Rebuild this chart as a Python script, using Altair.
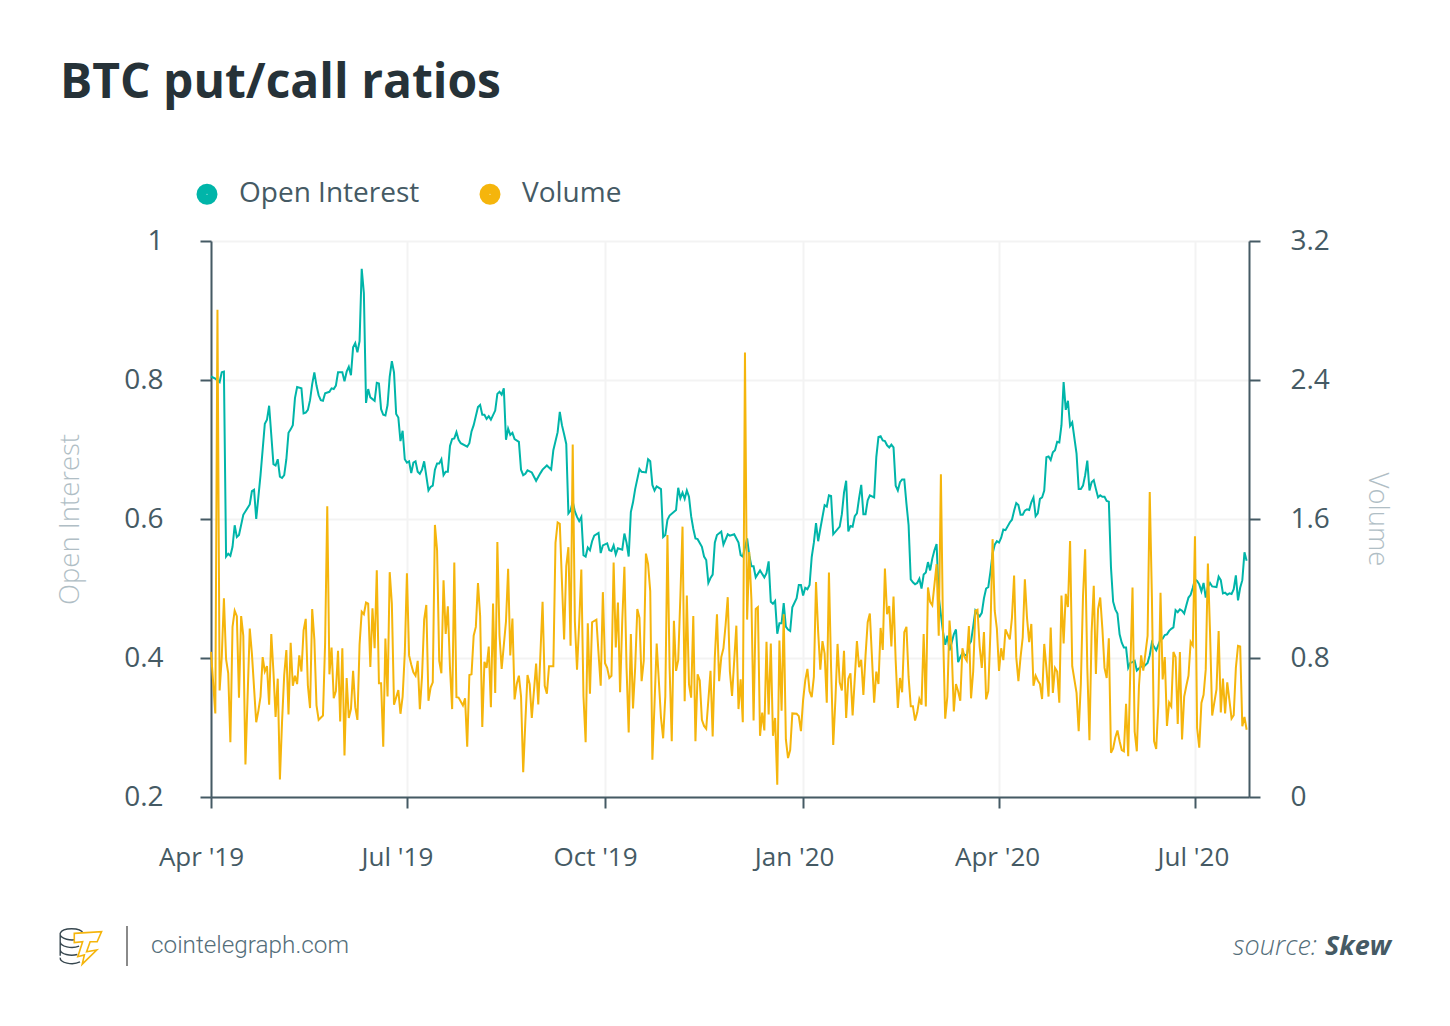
import altair as alt
import pandas as pd

# (days since 1 Apr 2019, ratio)
open_interest = [(0,.805),(2,.802),(4,.797),(5,.811),(6,.812),(7,.546),(8,.550),(9,.547),(10,.560),(11,.591),(12,.574),(13,.577),(15,.606),(18,.621),(19,.640),(20,.642),(21,.600),(23,.663),(25,.737),(26,.743),(27,.763),(29,.679),(30,.677),(31,.686),(32,.661),(33,.659),(34,.663),(35,.686),(36,.724),(37,.729),(38,.735),(39,.774),(40,.790),(42,.788),(43,.752),(44,.753),(45,.757),(46,.771),(47,.794),(48,.811),(49,.792),(50,.778),(51,.771),(52,.770),(53,.781),(55,.783),(56,.788),(57,.787),(58,.792),(59,.811),(61,.811),(62,.798),(63,.812),(64,.819),(65,.807),(66,.847),(67,.853),(68,.840),(69,.856),(70,.960),(71,.925),(72,.767),(73,.787),(74,.775),(76,.770),(77,.796),(78,.795),(79,.758),(80,.750),(81,.749),(82,.764),(83,.805),(84,.827),(85,.811),(86,.751),(87,.746),(88,.712),(89,.727),(90,.686),(91,.681),(92,.683),(93,.666),(94,.681),(95,.683),(96,.668),(97,.665),(98,.671),(99,.683),(101,.641),(102,.646),(103,.648),(104,.671),(105,.680),(106,.680),(107,.686),(108,.663),(109,.668),(110,.668),(111,.705),(112,.715),(113,.716),(114,.725),(115,.714),(116,.709),(119,.704),(120,.709),(121,.726),(122,.735),(124,.761),(125,.764),(126,.750),(127,.750),(128,.744),(129,.748),(130,.743),(132,.756),(133,.780),(134,.783),(135,.779),(136,.788),(137,.714),(138,.730),(139,.721),(140,.724),(141,.715),(143,.711),(144,.671),(145,.663),(146,.665),(147,.670),(149,.667),(151,.655),(153,.666),(154,.671),(156,.677),(158,.671),(159,.699),(161,.725),(162,.754),(163,.735),(164,.722),(165,.708),(166,.608),(167,.612),(168,.625),(169,.611),(170,.603),(171,.597),(172,.603),(173,.548),(174,.546),(175,.559),(176,.555),(177,.568),(178,.576),(180,.580),(181,.551),(182,.562),(184,.565),(185,.555),(186,.554),(187,.562),(188,.549),(189,.558),(191,.556),(192,.579),(193,.566),(194,.546),(195,.610),(196,.624),(197,.643),(199,.672),(200,.668),(202,.667),(203,.686),(204,.683),(205,.649),(206,.641),(207,.647),(209,.643),(210,.574),(211,.577),(212,.599),(213,.605),(216,.613),(217,.645),(218,.630),(219,.638),(220,.629),(221,.641),(222,.632),(223,.604),(224,.586),(225,.572),(226,.571),(228,.560),(229,.546),(230,.541),(231,.508),(232,.515),(233,.520),(234,.566),(235,.577),(237,.582),(238,.563),(240,.578),(241,.576),(243,.578),(245,.566),(246,.548),(247,.546),(249,.572),(250,.548),(251,.532),(252,.532),(253,.516),(255,.526),(257,.516),(258,.522),(259,.539),(260,.481),(261,.478),(262,.482),(263,.435),(264,.450),(265,.450),(266,.479),(267,.445),(268,.441),(269,.439),(270,.473),(272,.486),(273,.505),(274,.505),(275,.490),(276,.501),(277,.499),(278,.505),(279,.545),(280,.566),(281,.594),(282,.568),(283,.586),(285,.620),(286,.618),(287,.634),(288,.633),(289,.578),(292,.589),(293,.607),(294,.638),(295,.655),(296,.582),(297,.590),(298,.589),(299,.604),(300,.608),(301,.630),(302,.649),(303,.607),(304,.607),(305,.627),(306,.634),(308,.631),(309,.689),(310,.718),(311,.719),(312,.713),(313,.712),(314,.706),(315,.703),(316,.707),(317,.703),(318,.648),(319,.641),(320,.653),(321,.657),(322,.657),(323,.622),(324,.591),(325,.513),(326,.509),(327,.506),(328,.508),(329,.514),(330,.500),(331,.520),(332,.523),(333,.538),(334,.526),(335,.543),(336,.555),(337,.564),(338,.488),(340,.437),(341,.419),(342,.432),(343,.411),(344,.422),(345,.434),(346,.441),(347,.394),(348,.401),(349,.407),(350,.405),(351,.403),(352,.419),(353,.424),(354,.445),(355,.468),(356,.463),(357,.460),(358,.465),(359,.486),(360,.500),(361,.502),(362,.524),(363,.550),(364,.563),(365,.568),(366,.566),(367,.573),(368,.585),(369,.584),(371,.595),(372,.599),(373,.612),(374,.623),(375,.620),(376,.606),(377,.606),(378,.612),(379,.614),(380,.613),(381,.624),(382,.631),(383,.604),(384,.608),(385,.629),(386,.631),(387,.641),(388,.689),(389,.690),(390,.685),(391,.696),(392,.699),(393,.711),(394,.710),(395,.735),(396,.797),(397,.757),(398,.770),(399,.734),(400,.739),(402,.694),(403,.643),(404,.643),(405,.648),(406,.663),(407,.684),(408,.641),(409,.653),(410,.656),(411,.643),(412,.631),(413,.634),(414,.632),(415,.632),(416,.626),(417,.625),(418,.530),(419,.481),(420,.470),(421,.464),(422,.434),(423,.422),(424,.415),(425,.415),(426,.386),(427,.393),(428,.394),(429,.396),(430,.382),(431,.385),(432,.388),(433,.387),(435,.393),(436,.404),(437,.422),(438,.416),(439,.411),(440,.419),(441,.427),(442,.428),(443,.433),(444,.434),(445,.439),(446,.442),(447,.444),(448,.469),(449,.466),(450,.470),(451,.468),(452,.464),(453,.476),(454,.487),(455,.491),(456,.501),(457,.513),(458,.511),(459,.506),(460,.496),(461,.508),(462,.487),(463,.502),(464,.508),(465,.503),(467,.502),(468,.517),(469,.512),(470,.493),(471,.494),(472,.491),(473,.493),(474,.492),(475,.499),(476,.519),(477,.483),(478,.501),(479,.512),(480,.552),(481,.540)]

volume = [(0,.835),(2,.481),(3,2.805),(4,.613),(5,.805),(6,1.144),(7,.794),(8,.712),(9,.315),(10,.979),(11,1.072),(12,1.041),(13,.572),(14,1.041),(15,.928),(16,.187),(17,.578),(18,.969),(19,.825),(21,.430),(22,.496),(23,.578),(24,.805),(25,.722),(26,.753),(27,.531),(28,.938),(29,.722),(30,.461),(31,.681),(32,.101),(33,.434),(34,.702),(35,.846),(36,.475),(37,.887),(38,.640),(39,.698),(40,.650),(41,.815),(42,.722),(43,.959),(44,1.025),(45,.640),(46,.512),(47,1.082),(48,.907),(49,.527),(50,.444),(52,.469),(53,.887),(54,1.673),(55,.706),(56,.860),(57,.568),(58,.609),(59,.842),(60,.434),(61,.856),(62,.239),(63,.685),(64,.455),(65,.506),(66,.726),(67,.517),(68,.444),(69,.877),(70,1.066),(71,1.052),(72,1.119),(73,1.113),(74,.749),(75,1.086),(76,.856),(77,1.305),(78,.654),(79,.654),(80,.290),(81,.912),(82,.578),(83,1.294),(84,1.113),(85,.531),(87,.615),(88,.479),(89,.578),(90,.825),(91,1.288),(92,.815),(93,.763),(94,.718),(95,.698),(96,.784),(97,.506),(98,.691),(99,1.021),(100,1.105),(101,.554),(102,.630),(103,.660),(104,1.566),(105,1.422),(106,.784),(107,.712),(108,1.247),(109,.938),(110,1.097),(111,.743),(112,.506),(113,1.350),(114,.574),(115,.572),(117,.527),(118,.568),(119,.290),(120,.702),(121,.706),(122,.928),(123,.979),(124,1.231),(125,1.041),(126,.403),(127,.778),(128,.743),(129,.866),(130,.517),(131,1.113),(132,.599),(133,1.467),(134,.928),(135,.737),(137,1.010),(138,1.313),(139,.815),(140,1.027),(141,.562),(142,.650),(143,.698),(144,.578),(145,.142),(146,.434),(147,.702),(148,.650),(149,.455),(151,.768),(152,.533),(153,.825),(154,1.123),(155,.640),(156,.595),(157,.753),(159,.753),(160,1.463),(161,1.580),(162,1.572),(163,1.237),(164,.907),(165,1.329),(166,1.438),(167,.870),(168,2.029),(169,1.010),(170,.733),(171,1.000),(172,1.309),(173,.578),(174,.315),(175,1.000),(176,.595),(177,1.006),(179,1.021),(180,.825),(181,.640),(182,1.179),(183,.770),(184,.743),(185,.685),(186,.698),(187,1.350),(188,.860),(189,1.119),(190,.603),(191,1.010),(192,1.325),(193,.743),(194,.372),(195,.938),(196,.510),(197,.743),(198,1.082),(199,1.031),(200,.667),(201,.784),(202,1.401),(203,1.340),(204,1.185),(205,.214),(206,.537),(207,.883),(209,.455),(210,.338),(211,.578),(212,1.508),(213,.743),(214,.321),(215,1.014),(216,.726),(217,.788),(218,1.154),(219,1.556),(220,.551),(221,1.160),(222,.650),(223,.572),(224,1.041),(225,.321),(226,.706),(227,.671),(228,.444),(229,.409),(230,.393),(231,.558),(232,.726),(233,.348),(234,.805),(235,1.052),(236,.667),(237,.805),(238,.856),(239,.990),(240,1.150),(241,.722),(242,.582),(244,.986),(245,.506),(246,.677),(247,.430),(248,2.558),(249,1.021),(250,1.410),(251,1.134),(252,.440),(253,1.082),(254,1.093),(255,.352),(256,.486),(257,.383),(258,.893),(259,.475),(260,.883),(261,.352),(262,.455),(263,.070),(264,.901),(265,.496),(266,1.052),(267,.331),(268,.224),(269,.270),(270,.481),(272,.479),(273,.465),(274,.379),(275,.558),(276,.671),(277,.737),(278,.609),(279,.574),(280,.691),(281,1.237),(282,.949),(283,.733),(284,.897),(285,.825),(286,.543),(287,1.292),(288,.743),(289,.300),(290,.558),(291,.881),(292,.660),(293,.613),(294,.842),(295,.455),(296,.681),(297,.712),(298,.469),(299,.681),(300,.897),(301,.747),(302,.790),(303,.588),(304,.815),(305,1.006),(306,1.056),(308,.543),(309,.722),(310,.650),(311,.973),(312,.846),(313,1.315),(314,1.052),(315,1.099),(316,.866),(317,1.154),(318,.784),(319,.512),(320,.685),(321,.603),(322,.949),(323,.979),(324,.691),(325,.523),(326,.523),(327,.440),(328,.486),(329,.564),(330,.531),(331,.938),(332,.521),(333,1.206),(334,1.123),(335,1.103),(337,1.340),(338,.928),(339,1.858),(340,.949),(341,.451),(342,.578),(343,1.016),(344,.856),(345,.492),(346,.650),(347,.609),(348,.554),(349,.856),(350,.805),(351,.784),(352,.984),(353,.568),(354,.722),(355,1.072),(356,1.078),(357,.866),(358,.743),(359,.949),(360,.562),(361,.609),(362,.949),(363,1.484),(364,1.072),(365,.969),(366,.726),(367,.856),(368,.788),(369,.965),(371,.907),(372,1.031),(373,1.274),(374,.805),(375,.667),(376,.805),(377,.918),(378,1.253),(379,1.031),(380,.891),(381,.996),(382,.640),(383,.698),(384,.671),(385,.650),(386,.564),(387,.881),(388,.743),(389,.578),(390,.975),(391,.599),(392,.743),(393,.722),(394,.543),(395,1.160),(396,.883),(397,1.169),(398,1.093),(399,1.473),(400,.753),(402,.599),(403,.379),(404,.650),(405,1.154),(406,1.426),(407,.743),(408,.327),(409,.949),(410,1.216),(411,.708),(412,1.082),(413,1.148),(414,.969),(415,.743),(416,.685),(417,.914),(418,.255),(419,.280),(420,.342),(421,.383),(422,.321),(423,.270),(424,.263),(425,.537),(426,.235),(427,.743),(428,1.206),(429,.377),(430,.263),(431,.640),(432,.815),(433,.728),(435,.928),(436,1.755),(437,1.154),(438,.321),(439,.276),(440,.537),(441,1.175),(442,.677),(443,.805),(444,.409),(445,.543),(446,.521),(447,.835),(448,.805),(449,.420),(450,.835),(451,.331),(452,.578),(453,.640),(454,.698),(455,.893),(456,.872),(457,1.500),(458,.397),(459,.284),(460,.541),(461,.588),(462,.733),(463,1.344),(464,.949),(465,.469),(467,.619),(468,.955),(469,.486),(470,.681),(471,.481),(472,.660),(473,.558),(474,.451),(475,.471),(476,.743),(477,.870),(478,.866),(479,.407),(480,.461),(481,.387)]

series_names = ["Open Interest", "Volume"]
series_colors = ["#00b5a9", "#f5b50c"]
x_ticks = ["2019-04-01", "2019-07-01", "2019-10-01", "2020-01-01", "2020-04-01", "2020-07-01"]
left_ticks = [0.2, 0.4, 0.6, 0.8, 1]
right_ticks = [0, 0.8, 1.6, 2.4, 3.2]

FONT = "Open Sans"
INK = "#455a64"
PALE = "#b0bec5"
GRID = "#f3f3f3"

start = pd.Timestamp("2019-04-01")
ms = lambda t: int(pd.Timestamp(t).value // 10**6)
end_ms = ms(start) + int(482.1 * 86400000)


def table(pairs, name):
    df = pd.DataFrame(pairs, columns=["day", "value"])
    df["date"] = (start + pd.to_timedelta(df["day"], unit="D")).dt.strftime("%Y-%m-%d")
    df["series"] = name
    return df[["date", "value", "series"]]


# the first ticks' labels sit further left of their ticks than the later ones
label_shift = (
    f"datum.value < {ms('2019-12-01')} ? -10 : datum.value < {ms('2020-03-01')} ? -9 : -2"
)

x = alt.X(
    "date:T",
    scale=alt.Scale(type="utc", domain=[ms(start), end_ms]),
    axis=alt.Axis(
        values=[ms(t) for t in x_ticks],
        labelExpr="utcFormat(datum.value, \"%b '%y\")",
        title=None, grid=True, gridColor=GRID, gridWidth=2,
        domainColor=INK, domainWidth=2, tickColor=INK, tickWidth=2, tickSize=11,
        labelFont=FONT, labelFontSize=26, labelColor=INK, labelPadding=36,
        labelOffset=alt.expr(label_shift), labelOverlap=False, labelFlush=False,
    ),
)
color = alt.Color(
    "series:N",
    scale=alt.Scale(domain=series_names, range=series_colors),
    legend=alt.Legend(
        title=None, orient="none", direction="horizontal",
        legendX=-18, legendY=-61, symbolType="circle", symbolSize=121,
        symbolStrokeWidth=10, symbolOpacity=1, labelFont=FONT, labelFontSize=28,
        labelColor=INK, labelOffset=18, columnPadding=44, padding=0,
        labelLimit=400, symbolOffset=0,
    ),
)


def y_axis(side, ticks, title, padding, title_padding, grid):
    return alt.Axis(
        orient=side, values=ticks, title=title, grid=grid, gridColor=GRID, gridWidth=2,
        domainColor=INK, domainWidth=2, tickColor=INK, tickWidth=2, tickSize=11,
        labelFont=FONT, labelFontSize=28, labelColor=INK, labelPadding=padding,
        labelOverlap=False, labelFlush=False, format=".1~f",
        titleFont=FONT, titleFontSize=27.5, titleFontWeight=300, titleColor=PALE,
        titlePadding=title_padding,
    )


oi_line = alt.Chart(table(open_interest, series_names[0])).mark_line(strokeWidth=2).encode(
    x=x,
    y=alt.Y("value:Q", scale=alt.Scale(domain=[0.2, 1], nice=False),
            axis=y_axis("left", left_ticks, "Open Interest", 37, 39, True)),
    color=color,
)
vol_line = alt.Chart(table(volume, series_names[1])).mark_line(strokeWidth=2).encode(
    x=x,
    y=alt.Y("value:Q", scale=alt.Scale(domain=[0, 3.2], nice=False),
            axis=y_axis("right", right_ticks, "Volume", 30, 33, False)),
    color=color,
)

anchor = alt.Chart(pd.DataFrame({"k": [0]}))


def note(px, py, text, font=FONT, **kw):
    return anchor.mark_text(text=text, font=font, baseline="alphabetic", **kw).encode(
        x=alt.value(px - 211), y=alt.value(py - 241)
    )


COINS = ("M.07 -.31A.265 .13 0 0 0 -.45 -.31A.265 .13 0 0 0 .0 -.2"
         "M-.45 -.31L-.45 .2"
         "M-.45 -.12A.265 .13 0 0 0 -.02 -.02"
         "M-.45 .07A.265 .13 0 0 0 -.06 .17"
         "M-.45 .24A.265 .13 0 0 0 .0 .34")
BOLT = ("M-.13 -.31L.49 -.35L.39 -.12L.23 -.12L.15 .11L.38 .07L.05 .39"
        "L.10 .18L-.05 .22L.06 -.12L-.13 -.10Z")

coins = anchor.mark_point(shape=COINS, size=7744, filled=False, stroke="#37474f",
                          strokeWidth=1.4, opacity=1).encode(
    x=alt.value(80 - 211), y=alt.value(947 - 241))
bolt = anchor.mark_point(shape=BOLT, size=7744, filled=True, fill="#ffffff", stroke="#f5b50c",
                         strokeWidth=1.6, opacity=1, fillOpacity=1).encode(
    x=alt.value(80 - 211), y=alt.value(947 - 241))
divider = anchor.mark_rule(color="#8a8a8a", strokeWidth=2).encode(
    x=alt.value(127 - 211), y=alt.value(926 - 241), y2=alt.value(966 - 241))

chart = alt.layer(
    oi_line,
    vol_line,
    coins,
    bolt,
    divider,
    note(151, 953, "cointelegraph.com", font="Roboto", align="left", fontSize=24.3,
         color="#546e7a", fontWeight=300),
    note(1317, 955, "source:", align="right", fontSize=27, fontStyle="italic", color="#546e7a",
         fontWeight=300),
    note(1391, 955, "Skew", align="right", fontSize=27, fontStyle="italic", fontWeight="bold",
         color=INK),
).resolve_scale(y="independent", color="shared").properties(
    width=1038,
    height=556,
    title=alt.Title(
        "BTC put/call ratios", anchor="start", frame="group", dx=-151, offset=72,
        font=FONT, fontSize=48, fontWeight="bold", color="#263238",
    ),
    autosize=alt.AutoSizeParams(type="none"),
    padding={"left": 203, "top": 233, "right": 193, "bottom": 221},
).configure_view(stroke=None).configure(background="#ffffff")

chart.save("out.html", embed_options={"renderer": "svg", "actions": False})
